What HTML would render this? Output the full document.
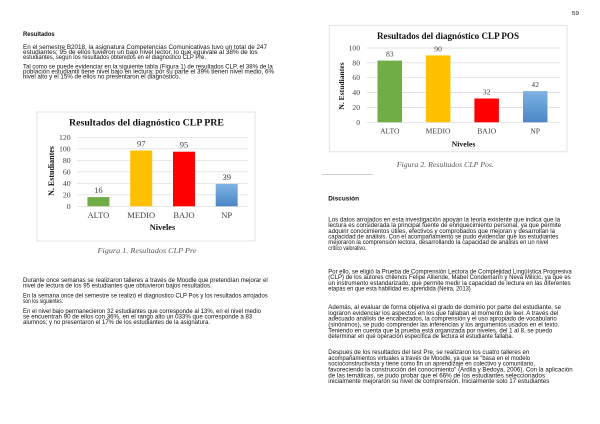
<!DOCTYPE html>
<html><head><meta charset="utf-8"><style>
html,body{margin:0;padding:0;background:#fff;}
svg{display:block;}
.b{font-family:"Liberation Sans",sans-serif;font-size:6.1px;fill:#111;}
.h{font-family:"Liberation Sans",sans-serif;font-size:6.4px;font-weight:bold;fill:#111;}
.s{font-family:"Liberation Serif",serif;fill:#404040;}
.t{font-family:"Liberation Serif",serif;font-weight:bold;fill:#111;}
.c{font-family:"Liberation Serif",serif;font-style:italic;fill:#555;}
</style></head><body>
<svg width="600" height="424" viewBox="0 0 600 424" xmlns="http://www.w3.org/2000/svg" dominant-baseline="central">
<defs>
<linearGradient id="g" x1="0" y1="0" x2="0" y2="1"><stop offset="0" stop-color="#80b3e4"/><stop offset="1" stop-color="#4a86c5"/></linearGradient>
</defs>
<rect width="600" height="424" fill="#fff"/>
<text x="572" y="14" class="h" style="font-size:5.4px;font-weight:normal" textLength="7" lengthAdjust="spacingAndGlyphs">59</text>

<!-- LEFT TEXT -->
<text x="23" y="34.3" class="h" textLength="31.7" lengthAdjust="spacingAndGlyphs">Resultados</text>
<g class="b">
<text x="23" y="47.7" textLength="244" lengthAdjust="spacingAndGlyphs">En el semestre B2018, la asignatura Competencias Comunicativas tuvo un total de 247</text>
<text x="23" y="52.6" textLength="234.7" lengthAdjust="spacingAndGlyphs">estudiantes; 95 de ellos tuvieron un bajo nivel lector, lo que equivale al 38% de los</text>
<text x="23" y="57.4" textLength="183" lengthAdjust="spacingAndGlyphs">estudiantes, según los resultados obtenidos en el diagnostico CLP Pre.</text>
<text x="23" y="67.2" textLength="249.7" lengthAdjust="spacingAndGlyphs">Tal como se puede evidenciar en la siguiente tabla (Figura 1) de resultados CLP, el 38% de la</text>
<text x="23" y="72.2" textLength="251" lengthAdjust="spacingAndGlyphs">población estudiantil tiene nivel bajo en lectura; por su parte el 39% tienen nivel medio, 6%</text>
<text x="23" y="77.2" textLength="157.3" lengthAdjust="spacingAndGlyphs">nivel alto y el 15% de ellos no presentaron el diagnóstico.</text>

<text x="23" y="280.7" textLength="244.7" lengthAdjust="spacingAndGlyphs">Durante once semanas se realizaron talleres a través de Moodle que pretendían mejorar el</text>
<text x="23" y="286" textLength="188.7" lengthAdjust="spacingAndGlyphs">nivel de lectura de los 95 estudiantes que obtuvieron bajos resultados.</text>
<text x="23" y="296" textLength="244.7" lengthAdjust="spacingAndGlyphs">En la semana once del semestre se realizó el diagnostico CLP Pos y los resultados arrojados</text>
<text x="23" y="301.3" textLength="40" lengthAdjust="spacingAndGlyphs">son los siguientes:</text>
<text x="23" y="311.7" textLength="238" lengthAdjust="spacingAndGlyphs">En el nivel bajo permanecieron 32 estudiantes que corresponde al 13%, en el nivel medio</text>
<text x="23" y="317" textLength="229.3" lengthAdjust="spacingAndGlyphs">se encuentran 90 de ellos con 36%, en el rango alto un 033% que corresponde a 83</text>
<text x="23" y="322.3" textLength="187" lengthAdjust="spacingAndGlyphs">alumnos; y no presentaron el 17% de los estudiantes de la asignatura.</text>
</g>

<!-- CHART 1 -->
<rect x="37" y="112" width="218" height="129" fill="#fff" stroke="#dcdcdc" stroke-width="0.8"/>
<text x="146.5" y="123" class="t" text-anchor="middle" style="font-size:9.8px" textLength="155" lengthAdjust="spacingAndGlyphs">Resultados del diagnóstico CLP PRE</text>
<g stroke="#d9d9d9" stroke-width="0.7">
<line x1="77" y1="137.3" x2="248" y2="137.3"/>
<line x1="77" y1="148.8" x2="248" y2="148.8"/>
<line x1="77" y1="160.3" x2="248" y2="160.3"/>
<line x1="77" y1="171.8" x2="248" y2="171.8"/>
<line x1="77" y1="183.3" x2="248" y2="183.3"/>
<line x1="77" y1="194.8" x2="248" y2="194.8"/>
<line x1="77" y1="206.3" x2="248" y2="206.3"/>
</g>
<g class="s" style="font-size:7.8px" text-anchor="end">
<text x="70.7" y="137.3">120</text>
<text x="70.7" y="148.8">100</text>
<text x="70.7" y="160.3">80</text>
<text x="70.7" y="171.8">60</text>
<text x="70.7" y="183.3">40</text>
<text x="70.7" y="194.8">20</text>
<text x="70.7" y="206.3">0</text>
</g>
<rect x="87.4" y="197.1" width="22" height="9.2" fill="#70ad47"/>
<rect x="130.2" y="150.5" width="22" height="55.8" fill="#ffc000"/>
<rect x="173" y="151.7" width="22" height="54.6" fill="#ff0000"/>
<rect x="215.7" y="183.9" width="22" height="22.4" fill="url(#g)"/>
<g class="s" style="font-size:8.5px" text-anchor="middle">
<text x="98.4" y="189.9">16</text>
<text x="141.2" y="143.3">97</text>
<text x="184" y="144.5">95</text>
<text x="226.7" y="176.9">39</text>
<text x="98.4" y="215.2">ALTO</text>
<text x="141.2" y="215.2">MEDIO</text>
<text x="184" y="215.2">BAJO</text>
<text x="226.7" y="215.2">NP</text>
</g>
<text x="162.5" y="227.7" class="t" text-anchor="middle" style="font-size:8.4px">Niveles</text>
<text transform="translate(51.7,171) rotate(-90)" x="0" y="0" class="t" text-anchor="middle" style="font-size:8px">N. Estudiantes</text>
<text x="147" y="250.7" class="c" text-anchor="middle" style="font-size:7.6px" textLength="99" lengthAdjust="spacingAndGlyphs">Figura 1. Resultados CLP Pre</text>

<!-- CHART 2 -->
<rect x="329.3" y="25.3" width="237.7" height="126.5" fill="#fff" stroke="#dcdcdc" stroke-width="0.8"/>
<text x="448" y="36" class="t" text-anchor="middle" style="font-size:9px" textLength="142" lengthAdjust="spacingAndGlyphs">Resultados del diagnóstico CLP POS</text>
<g stroke="#d9d9d9" stroke-width="0.7">
<line x1="366.7" y1="48" x2="560" y2="48"/>
<line x1="366.7" y1="62.9" x2="560" y2="62.9"/>
<line x1="366.7" y1="77.7" x2="560" y2="77.7"/>
<line x1="366.7" y1="92.6" x2="560" y2="92.6"/>
<line x1="366.7" y1="107.4" x2="560" y2="107.4"/>
<line x1="366.7" y1="122.3" x2="560" y2="122.3"/>
</g>
<g class="s" style="font-size:7.6px" text-anchor="end">
<text x="360" y="48">100</text>
<text x="360" y="62.9">80</text>
<text x="360" y="77.7">60</text>
<text x="360" y="92.6">40</text>
<text x="360" y="107.4">20</text>
<text x="360" y="122.3">0</text>
</g>
<rect x="377.5" y="60.6" width="24.5" height="61.7" fill="#70ad47"/>
<rect x="425.9" y="55.4" width="24.5" height="66.9" fill="#ffc000"/>
<rect x="474.4" y="98.5" width="24.5" height="23.8" fill="#ff0000"/>
<rect x="523" y="91.1" width="24.5" height="31.2" fill="url(#g)"/>
<g class="s" style="font-size:7.6px" text-anchor="middle">
<text x="389.8" y="54">83</text>
<text x="438.1" y="48.9">90</text>
<text x="486.7" y="92">32</text>
<text x="535.2" y="84.6">42</text>
<text x="389.8" y="131">ALTO</text>
<text x="438.1" y="131">MEDIO</text>
<text x="486.7" y="131">BAJO</text>
<text x="535.2" y="131">NP</text>
</g>
<text x="463.5" y="144.2" class="t" text-anchor="middle" style="font-size:7.8px">Niveles</text>
<text transform="translate(341.5,86) rotate(-90)" x="0" y="0" class="t" text-anchor="middle" style="font-size:7.6px">N. Estudiantes</text>
<text x="445.3" y="164.3" class="c" text-anchor="middle" style="font-size:7.5px" textLength="97" lengthAdjust="spacingAndGlyphs">Figura 2. Resultados CLP Pos.</text>
<line x1="322" y1="174.7" x2="372.7" y2="174.7" stroke="#b0b0b0" stroke-width="0.7"/>

<!-- RIGHT TEXT -->
<text x="328.3" y="199" class="h" textLength="30.7" lengthAdjust="spacingAndGlyphs">Discusión</text>
<g class="b">
<text x="328.3" y="220" textLength="231.7" lengthAdjust="spacingAndGlyphs">Los datos arrojados en esta investigación apoyan la teoria existente que indica que la</text>
<text x="328.3" y="225.7" textLength="232.7" lengthAdjust="spacingAndGlyphs">lectura es considerada la principal fuente de enriquecimiento personal, ya que permite</text>
<text x="328.3" y="231.3" textLength="226.7" lengthAdjust="spacingAndGlyphs">adquirir conocimientos útiles, efectivos y comprobados que mejoran y desarrollan la</text>
<text x="328.3" y="237" textLength="230" lengthAdjust="spacingAndGlyphs">capacidad de análisis. Con el acompañamiento se pudo evidenciar que los estudiantes</text>
<text x="328.3" y="242.7" textLength="220" lengthAdjust="spacingAndGlyphs">mejoraron la comprensión lectora, desarrollando la capacidad de análisis en un nivel</text>
<text x="328.3" y="248.3" textLength="38" lengthAdjust="spacingAndGlyphs">crítico valorativo.</text>
<text x="328.3" y="272" textLength="243.4" lengthAdjust="spacingAndGlyphs">Por ello, se eligió la Prueba de Comprensión Lectora de Complejidad Lingüística Progresiva</text>
<text x="328.3" y="277.7" textLength="242.4" lengthAdjust="spacingAndGlyphs">(CLP) de los autores chilenos Felipe Alliende, Mabel Condemarín y Neva Milicic, ya que es</text>
<text x="328.3" y="283.3" textLength="242.4" lengthAdjust="spacingAndGlyphs">un instrumento estandarizado, que permite medir la capacidad de lectura en las diferentes</text>
<text x="328.3" y="289" textLength="142.4" lengthAdjust="spacingAndGlyphs">etapas en que esta habilidad es aprendida (Neira, 2013)</text>
<text x="328.3" y="307.5" textLength="232.7" lengthAdjust="spacingAndGlyphs">Además, al evaluar de forma objetiva el grado de dominio por parte del estudiante, se</text>
<text x="328.3" y="313.3" textLength="230" lengthAdjust="spacingAndGlyphs">lograron evidenciar los aspectos en los que fallaban al momento de leer. A través del</text>
<text x="328.3" y="319.2" textLength="228.4" lengthAdjust="spacingAndGlyphs">adecuado análisis de encabezados, la comprensión y el uso apropiado de vocabulario</text>
<text x="328.3" y="325" textLength="231" lengthAdjust="spacingAndGlyphs">(sinónimos), se pudo comprender las inferencias y los argumentos usados en el texto.</text>
<text x="328.3" y="330.8" textLength="224" lengthAdjust="spacingAndGlyphs">Teniendo en cuenta que la prueba está organizada por niveles, del 1 al 8, se puedo</text>
<text x="328.3" y="336.7" textLength="185" lengthAdjust="spacingAndGlyphs">determinar en qué operación específica de lectura el estudiante fallaba.</text>
<text x="328.3" y="352.5" textLength="201" lengthAdjust="spacingAndGlyphs">Después de los resultados del test Pre, se realizaron los cuatro talleres en</text>
<text x="328.3" y="358.3" textLength="201.7" lengthAdjust="spacingAndGlyphs">acompañamientos virtuales a través de Moodle, ya que se "basa en el modelo</text>
<text x="328.3" y="364.2" textLength="206.7" lengthAdjust="spacingAndGlyphs">socioconstructivista y tiene como fin un aprendizaje en colectivo y comunitario,</text>
<text x="328.3" y="370" textLength="244.4" lengthAdjust="spacingAndGlyphs">favoreciendo la construcción del conocimiento" (Ardila y Bedoya, 2006). Con la aplicación</text>
<text x="328.3" y="375.8" textLength="216.7" lengthAdjust="spacingAndGlyphs">de las temáticas, se pudo probar que el 66% de los estudiantes seleccionados</text>
<text x="328.3" y="381.7" textLength="221" lengthAdjust="spacingAndGlyphs">inicialmente mejoraron su nivel de comprensión. Inicialmente solo 17 estudiantes</text>
</g>
</svg>
</body></html>
